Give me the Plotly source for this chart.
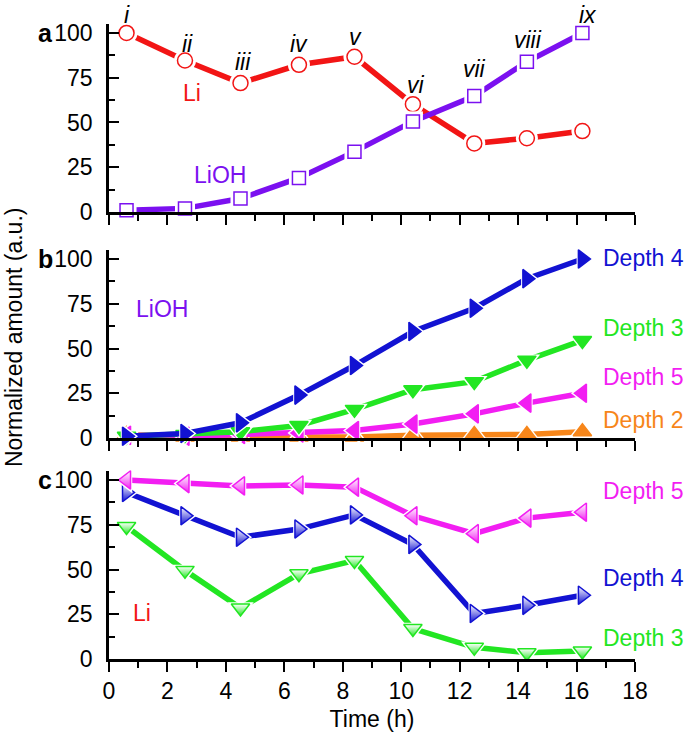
import plotly.graph_objects as go
from plotly.subplots import make_subplots

# ---- data ----
time_h = [0.6, 2.6, 4.5, 6.5, 8.4, 10.4, 12.5, 14.3, 16.2]

# panel a
li_a = [100, 84.6, 72, 82.2, 86.7, 60.2, 38.3, 41.2, 45.2]
lioh_a = [1, 2, 7.5, 19, 33.7, 50.6, 64.8, 83.9, 100]
roman = ["i", "ii", "iii", "iv", "v", "vi", "vii", "viii", "ix"]
roman_x = [0.6, 2.7, 4.6, 6.5, 8.45, 10.5, 12.5, 14.35, 16.4]
roman_y = [100, 94, 84, 94, 98, 71, 80, 96, 100]
roman_shift = [18, 0, 0, 0, 0, 0, 0, 0, 18]

# panel b (LiOH)
d4_b = [1, 2.5, 8.5, 24, 40.5, 59.5, 72.5, 89, 100]
d3_b = [1, 2, 3.5, 7, 16, 27, 31.5, 43.5, 54.5]
d5_b = [1.5, 1, 2, 2.8, 4.2, 7.8, 13.5, 19.5, 25]
d2_b = [2, 0.5, 0.5, 0.5, 0.5, 1.5, 2, 2, 3.5]

# panel c (Li)
d5_c = [100, 98, 96.7, 97.2, 96, 80, 70, 78.7, 82]
d4_c = [93, 80, 68, 72.6, 80.5, 64, 25.4, 30, 35.6]
d3_c = [74, 49.5, 28.5, 47.6, 55, 17, 6.5, 3.5, 4.5]

RED = "#f21515"
PURPLE = "#7b10f0"
BLUE = "#1212d2"
GREEN = "#22e622"
MAGENTA = "#f21ef2"
ORANGE = "#f7861a"

FONT = "Liberation Sans, Arial, Helvetica, sans-serif"
FS = 23

fig = make_subplots(rows=3, cols=1)


def add_series(row, y, color, symbol, size, fill="white", gradient=False):
    fig.add_trace(go.Scatter(x=time_h, y=y, mode="lines",
                             line=dict(color=color, width=5.5),
                             cliponaxis=False, showlegend=False,
                             hoverinfo="skip"), row=row, col=1)
    fig.add_trace(go.Scatter(x=time_h, y=y, mode="markers",
                             marker=dict(symbol=symbol, size=size + 7,
                                         color="white",
                                         line=dict(width=0)),
                             cliponaxis=False, showlegend=False,
                             hoverinfo="skip"), row=row, col=1)
    mk = dict(symbol=symbol, size=size, color=fill,
              line=dict(color=color, width=1.5))
    if gradient:
        mk["gradient"] = dict(type="vertical", color=color)
    fig.add_trace(go.Scatter(x=time_h, y=y, mode="markers", marker=mk,
                             cliponaxis=False, showlegend=False),
                  row=row, col=1)


# panel a
add_series(1, li_a, RED, "circle", 15)
add_series(1, lioh_a, PURPLE, "square", 13)

# panel b
add_series(2, d2_b, ORANGE, "triangle-up", 16, fill=ORANGE)
add_series(2, d5_b, MAGENTA, "triangle-left", 16, fill=MAGENTA)
add_series(2, d3_b, GREEN, "triangle-down", 16, fill=GREEN)
add_series(2, d4_b, BLUE, "triangle-right", 16, fill=BLUE)

# panel c
add_series(3, d3_c, GREEN, "triangle-down", 16, fill="white", gradient=True)
add_series(3, d4_c, BLUE, "triangle-right", 16, fill="white", gradient=True)
add_series(3, d5_c, MAGENTA, "triangle-left", 16, fill="white", gradient=True)

xcommon = dict(range=[0, 18], showline=True, linecolor="black", linewidth=2.5,
               ticks="outside", ticklen=10, tickwidth=2.2, tickcolor="black",
               dtick=2, tick0=0, showgrid=False, zeroline=False,
               minor=dict(dtick=1, ticks="outside", ticklen=6, tickwidth=2.2,
                          tickcolor="black", showgrid=False),
               tickfont=dict(family=FONT, size=FS, color="black"))
ycommon = dict(range=[0, 105], showline=True, linecolor="black", linewidth=2.5,
               ticks="inside", ticklen=10, tickwidth=2.2, tickcolor="black",
               tickvals=[0, 25, 50, 75, 100], showgrid=False, zeroline=False,
               minor=dict(tickvals=[12.5, 37.5, 62.5, 87.5], ticks="inside",
                          ticklen=6, tickwidth=2.2, tickcolor="black",
                          showgrid=False),
               ticklabelstandoff=9,
               tickfont=dict(family=FONT, size=FS, color="black"))

fig.update_layout(
    xaxis=dict(xcommon, showticklabels=False, anchor="y"),
    xaxis2=dict(xcommon, showticklabels=False, anchor="y2"),
    xaxis3=dict(xcommon, anchor="y3",
                title=dict(text="Time (h)", standoff=8,
                           font=dict(family=FONT, size=FS, color="black"))),
    yaxis=dict(ycommon, domain=[0.704, 1.0]),
    yaxis2=dict(ycommon, domain=[0.348, 0.644]),
    yaxis3=dict(ycommon, domain=[0.0, 0.296]),
    width=685, height=740,
    margin=dict(l=109, r=50, t=24, b=81),
    plot_bgcolor="white", paper_bgcolor="white",
    font=dict(family=FONT, size=FS, color="black"),
)

ann = []
# roman numerals
for t, xx, yy, sh in zip(roman, roman_x, roman_y, roman_shift):
    ann.append(dict(x=xx, y=yy, xref="x", yref="y", text=f"<i>{t}</i>",
                    yshift=sh, xanchor="center", yanchor="middle",
                    showarrow=False, font=dict(size=FS, color="black")))
ann.append(dict(x=2.85, y=66.5, xref="x", yref="y", text="Li", showarrow=False,
                xanchor="center", font=dict(size=FS, color=RED)))
ann.append(dict(x=3.8, y=20.7, xref="x", yref="y", text="LiOH", showarrow=False,
                xanchor="center", font=dict(size=FS, color=PURPLE)))
ann.append(dict(x=1.8, y=72, xref="x2", yref="y2", text="LiOH", showarrow=False,
                xanchor="center", font=dict(size=FS, color=PURPLE)))
ann.append(dict(x=1.13, y=25.6, xref="x3", yref="y3", text="Li", showarrow=False,
                xanchor="center", font=dict(size=FS, color=RED)))

depth_b = [("Depth 4", 100.5, BLUE), ("Depth 3", 61.5, GREEN),
           ("Depth 5", 34, MAGENTA), ("Depth 2", 10, ORANGE)]
for txt, yy, c in depth_b:
    ann.append(dict(x=16.82, y=yy, xref="x2", yref="y2", text=txt,
                    xanchor="left", showarrow=False, font=dict(size=FS, color=c)))
depth_c = [("Depth 5", 94, MAGENTA), ("Depth 4", 45, BLUE), ("Depth 3", 11.7, GREEN)]
for txt, yy, c in depth_c:
    ann.append(dict(x=16.82, y=yy, xref="x3", yref="y3", text=txt,
                    xanchor="left", showarrow=False, font=dict(size=FS, color=c)))

# panel letters
for letter, yref in [("a", "y"), ("b", "y2"), ("c", "y3")]:
    ann.append(dict(x=-64 / 526, y=100, xref="paper", yref=yref,
                    text=f"<b>{letter}</b>", showarrow=False,
                    xanchor="center", yanchor="middle",
                    font=dict(size=25, color="black")))

# y-axis title
ann.append(dict(x=-95 / 526, y=0.507, xref="paper", yref="paper",
                text="Normalized amount (a.u.)", textangle=-90, showarrow=False,
                xanchor="center", yanchor="middle",
                font=dict(size=FS, color="black")))

fig.update_layout(annotations=ann)
fig.write_html("out.html",
               config={"displayModeBar": False},
               post_script="document.body.style.margin='0px';")
